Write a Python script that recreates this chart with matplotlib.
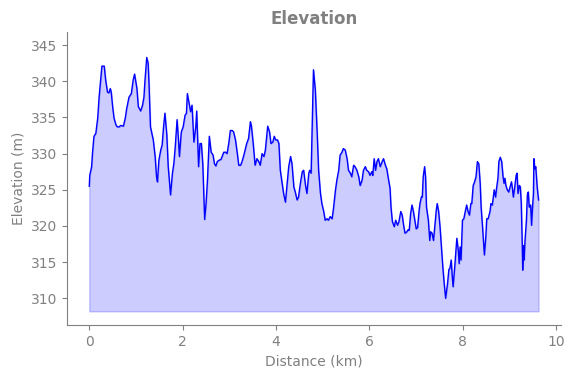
import matplotlib
matplotlib.use("Agg")
import matplotlib.pyplot as plt
import numpy as np

distance_km = [
    0.00, 0.01, 0.05, 0.07, 0.10, 0.14, 0.18, 0.21, 0.25, 0.27, 0.32, 0.35, 0.39, 0.42, 0.45, 0.47,
    0.50, 0.53, 0.57, 0.60, 0.64, 0.67, 0.73, 0.77, 0.80, 0.85, 0.90, 0.94, 0.97, 1.02, 1.05, 1.10,
    1.14, 1.17, 1.19, 1.23, 1.26, 1.28, 1.31, 1.37, 1.41, 1.44, 1.46, 1.49, 1.53, 1.56, 1.59, 1.62,
    1.66, 1.69, 1.74, 1.78, 1.81, 1.84, 1.88, 1.91, 1.93, 1.97, 2.01, 2.05, 2.08, 2.10, 2.14, 2.17,
    2.20, 2.24, 2.28, 2.30, 2.34, 2.37, 2.40, 2.43, 2.47, 2.50, 2.53, 2.57, 2.61, 2.65, 2.68, 2.71,
    2.74, 2.78, 2.82, 2.88, 2.92, 2.95, 2.99, 3.02, 3.06, 3.09, 3.13, 3.17, 3.20, 3.24, 3.27, 3.31,
    3.37, 3.41, 3.45, 3.47, 3.51, 3.55, 3.59, 3.63, 3.66, 3.70, 3.74, 3.77, 3.82, 3.86, 3.89, 3.93,
    3.96, 3.99, 4.03, 4.06, 4.09, 4.13, 4.16, 4.20, 4.23, 4.27, 4.31, 4.34, 4.38, 4.41, 4.45, 4.48,
    4.52, 4.56, 4.59, 4.63, 4.66, 4.70, 4.72, 4.75, 4.77, 4.80, 4.84, 4.88, 4.91, 4.95, 4.98, 5.02,
    5.05, 5.09, 5.12, 5.16, 5.20, 5.23, 5.27, 5.30, 5.34, 5.37, 5.41, 5.44, 5.48, 5.52, 5.55, 5.59,
    5.62, 5.66, 5.69, 5.73, 5.77, 5.80, 5.84, 5.87, 5.91, 5.94, 5.98, 6.01, 6.05, 6.07, 6.10, 6.13,
    6.16, 6.19, 6.23, 6.27, 6.30, 6.34, 6.37, 6.41, 6.44, 6.46, 6.49, 6.53, 6.56, 6.60, 6.63, 6.67,
    6.70, 6.73, 6.76, 6.80, 6.83, 6.85, 6.88, 6.91, 6.94, 6.97, 7.00, 7.03, 7.06, 7.08, 7.11, 7.13,
    7.15, 7.18, 7.20, 7.22, 7.26, 7.29, 7.31, 7.34, 7.37, 7.40, 7.43, 7.45, 7.48, 7.51, 7.54, 7.57,
    7.60, 7.63, 7.67, 7.70, 7.72, 7.75, 7.77, 7.79, 7.83, 7.87, 7.90, 7.92, 7.94, 7.96, 7.99, 8.02,
    8.05, 8.08, 8.11, 8.14, 8.17, 8.19, 8.22, 8.25, 8.28, 8.31, 8.34, 8.37, 8.39, 8.42, 8.46, 8.49,
    8.51, 8.54, 8.58, 8.60, 8.63, 8.65, 8.67, 8.70, 8.72, 8.75, 8.77, 8.80, 8.83, 8.86, 8.88, 8.90,
    8.92, 8.95, 8.98, 9.01, 9.04, 9.06, 9.08, 9.11, 9.14, 9.16, 9.18, 9.21, 9.23, 9.25, 9.27, 9.28,
    9.30, 9.31, 9.33, 9.36, 9.38, 9.40, 9.42, 9.45, 9.47, 9.49, 9.51, 9.52, 9.54, 9.56, 9.59, 9.62,
]

elevation_m = [
    325.5, 327.0, 328.2, 330.2, 332.4, 332.8, 334.9, 337.8, 340.6, 342.1, 342.1, 340.2, 338.5, 338.4, 339.0, 338.5,
    336.5, 334.9, 334.0, 333.7, 333.7, 333.9, 333.8, 334.9, 336.2, 337.8, 338.3, 340.2, 341.0, 339.0, 336.5, 335.9,
    336.7, 337.8, 339.9, 343.3, 342.5, 339.5, 333.7, 331.9, 329.6, 326.8, 326.1, 329.1, 330.5, 331.2, 333.7, 335.6,
    332.6, 328.2, 324.3, 327.3, 328.6, 330.9, 334.7, 331.9, 329.6, 333.0, 333.7, 335.3, 335.6, 338.3, 336.9, 335.8,
    336.7, 331.6, 333.7, 335.9, 328.2, 331.4, 331.4, 328.6, 320.9, 323.1, 326.3, 332.4, 330.2, 329.8, 328.6, 328.3,
    328.9, 329.1, 329.2, 330.2, 330.2, 330.0, 331.6, 333.2, 333.2, 333.0, 331.9, 330.0, 328.4, 328.4, 328.9, 329.8,
    331.4, 332.1, 334.4, 333.9, 331.4, 328.4, 329.3, 328.9, 328.4, 330.0, 329.6, 330.5, 333.8, 333.0, 331.4, 331.6,
    332.4, 331.9, 331.9, 331.4, 327.7, 325.9, 324.5, 323.3, 325.4, 328.2, 329.6, 328.6, 325.4, 324.7, 323.6, 324.0,
    325.9, 327.5, 327.7, 325.6, 324.5, 327.3, 327.7, 327.3, 333.2, 341.6, 338.8, 332.8, 327.7, 324.5, 323.1, 322.0,
    320.8, 321.0, 320.8, 321.3, 321.0, 322.5, 324.9, 326.3, 327.7, 329.8, 330.2, 330.7, 330.5, 329.3, 327.7, 327.3,
    326.8, 328.4, 328.2, 327.7, 326.8, 325.6, 326.3, 327.7, 328.2, 327.7, 327.5, 327.0, 327.5, 327.0, 329.3, 327.7,
    328.9, 329.3, 328.2, 328.9, 329.3, 328.4, 327.9, 326.3, 325.2, 322.6, 320.6, 319.9, 320.8, 320.1, 320.6, 322.0,
    321.5, 320.1, 319.0, 319.2, 319.5, 319.4, 321.7, 322.9, 322.0, 320.8, 319.6, 319.8, 322.0, 323.1, 324.0, 324.0,
    326.8, 328.2, 326.8, 322.6, 320.8, 318.0, 319.2, 319.0, 318.0, 320.1, 322.2, 323.1, 322.0, 319.9, 317.1, 314.3,
    312.0, 310.0, 312.0, 314.0, 314.1, 315.3, 313.2, 311.6, 314.8, 318.3, 316.7, 314.8, 317.1, 315.3, 320.8, 321.0,
    322.0, 322.9, 322.0, 321.5, 323.1, 323.1, 325.6, 326.1, 326.8, 328.9, 328.6, 325.9, 322.6, 319.9, 316.0, 318.5,
    321.0, 321.0, 322.0, 323.1, 322.9, 324.0, 325.0, 324.0, 325.2, 326.6, 328.9, 329.5, 328.9, 326.8, 325.9, 326.6,
    325.6, 325.0, 324.7, 325.4, 326.1, 325.2, 324.0, 325.4, 327.0, 327.3, 324.5, 325.6, 325.4, 323.1, 317.6, 313.9,
    317.3, 315.3, 318.0, 320.8, 324.3, 324.7, 322.6, 322.9, 320.1, 322.5, 324.5, 329.3, 327.9, 328.2, 325.4, 323.6,
]

fill_base_m = 308.2
title_text = "Elevation"
xlabel_text = "Distance (km)"
ylabel_text = "Elevation (m)"

gray = "#808080"
fig = plt.figure(figsize=(5.76, 3.78), dpi=100)
ax = fig.add_axes([0.116, 0.140, 0.858, 0.775])

ax.fill_between(distance_km, elevation_m, fill_base_m, color="blue", alpha=0.2)
ax.plot(distance_km, elevation_m, color="blue", lw=1.0)

ax.set_ylim(306.3, 346.8)
ax.set_xticks([0, 2, 4, 6, 8, 10])
ax.set_yticks([310, 315, 320, 325, 330, 335, 340, 345])

ax.set_title(title_text, color=gray, fontweight="bold", fontsize=12)
ax.set_xlabel(xlabel_text, color=gray, fontsize=10)
ax.set_ylabel(ylabel_text, color=gray, fontsize=10)
ax.tick_params(colors=gray, labelcolor=gray, labelsize=10)
for s in ["top", "right"]:
    ax.spines[s].set_visible(False)
for s in ["left", "bottom"]:
    ax.spines[s].set_color(gray)

fig.savefig("out.png", dpi=100)
